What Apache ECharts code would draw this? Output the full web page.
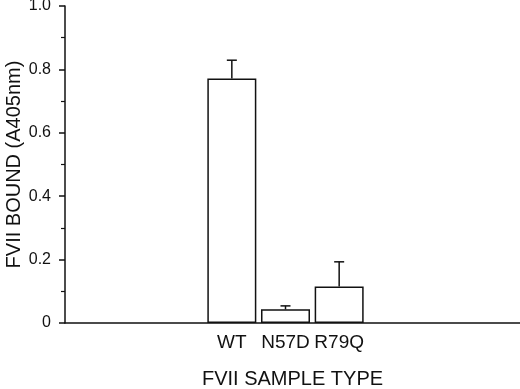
<!DOCTYPE html>
<html>
<head>
<meta charset="utf-8">
<script src="https://cdn.jsdelivr.net/npm/echarts@6/dist/echarts.min.js"></script>
<style>
  html, body { margin: 0; padding: 0; background: #fff; }
  #chart { width: 520px; height: 389px; }
</style>
</head>
<body>
<div id="chart"></div>
<script>
const categories = ['WT', 'N57D', 'R79Q'];
const bound = [0.771, 0.043, 0.115];
const errUp = [0.058, 0.011, 0.078];
const yTicks = [0, 0.2, 0.4, 0.6, 0.8, 1.0];

const ink = '#111';
const font = '"Liberation Sans", Arial, Helvetica, sans-serif';

const chart = echarts.init(document.getElementById('chart'));

// grid 0 carries the visible y axis and the long x baseline,
// grid 1 only holds the three bars so they land in the middle
chart.setOption({
    animation: false,
    grid: [
        { left: 65, right: 0, top: 6, bottom: 66, outerBoundsMode: 'none', containLabel: false },
        { left: 205, right: 154, top: 6, bottom: 66, outerBoundsMode: 'none', containLabel: false },
    ],
    xAxis: [
        {
            gridIndex: 0,
            type: 'value',
            min: 0, max: 1,
            axisLine: { lineStyle: { color: ink, width: 1.5 } },
            axisTick: { show: false },
            axisLabel: { show: false },
            splitLine: { show: false },
            name: 'FVII SAMPLE TYPE',
            nameLocation: 'middle',
            nameMoveOverlap: false,
            nameGap: 46,
            nameTextStyle: { color: ink, fontSize: 20, fontFamily: font },
        },
        {
            gridIndex: 1,
            type: 'category',
            data: categories,
            axisLine: { show: false },
            axisTick: { show: false },
            axisLabel: { interval: 0, color: ink, fontSize: 19, fontFamily: font, margin: 10 },
        },
    ],
    yAxis: [
        {
            gridIndex: 0,
            type: 'value',
            min: 0, max: 1, interval: 0.2,
            axisLine: { show: true, lineStyle: { color: ink, width: 1.5 } },
            axisTick: { show: true, inside: false, length: 6, lineStyle: { color: ink, width: 1.5 } },
            minorTick: { show: true, splitNumber: 2, length: 4, lineStyle: { color: ink, width: 1.2 } },
            splitLine: { show: false },
            axisLabel: {
                color: ink, fontSize: 16, fontFamily: font, margin: 14,
                formatter: v => (yTicks.includes(+v.toFixed(1)) ? (v === 0 ? '0' : v.toFixed(1)) : ''),
            },
            name: 'FVII BOUND (A405nm)',
            nameLocation: 'middle',
            nameRotate: 90,
            nameMoveOverlap: false,
            nameGap: 41,
            nameTextStyle: { color: ink, fontSize: 20, fontFamily: font },
        },
        {
            gridIndex: 1,
            type: 'value',
            min: 0, max: 1,
            show: false,
        },
    ],
    series: [
        {
            type: 'bar',
            xAxisIndex: 1,
            yAxisIndex: 1,
            data: bound,
            barWidth: 49,
            itemStyle: { color: '#fff', borderColor: ink, borderWidth: 1.5 },
        },
        {
            type: 'custom',
            xAxisIndex: 1,
            yAxisIndex: 1,
            data: bound.map((v, i) => [i, v, v + errUp[i]]),
            renderItem: (params, api) => {
                const base = api.coord([api.value(0), api.value(1)]);
                const top = api.coord([api.value(0), api.value(2)]);
                const half = 5;
                const style = { stroke: ink, lineWidth: 1.5 };
                return {
                    type: 'group',
                    children: [
                        { type: 'line', shape: { x1: base[0], y1: base[1], x2: top[0], y2: top[1] }, style },
                        { type: 'line', shape: { x1: top[0] - half, y1: top[1], x2: top[0] + half, y2: top[1] }, style },
                    ],
                };
            },
            z: 3,
        },
    ],
});
</script>
</body>
</html>
